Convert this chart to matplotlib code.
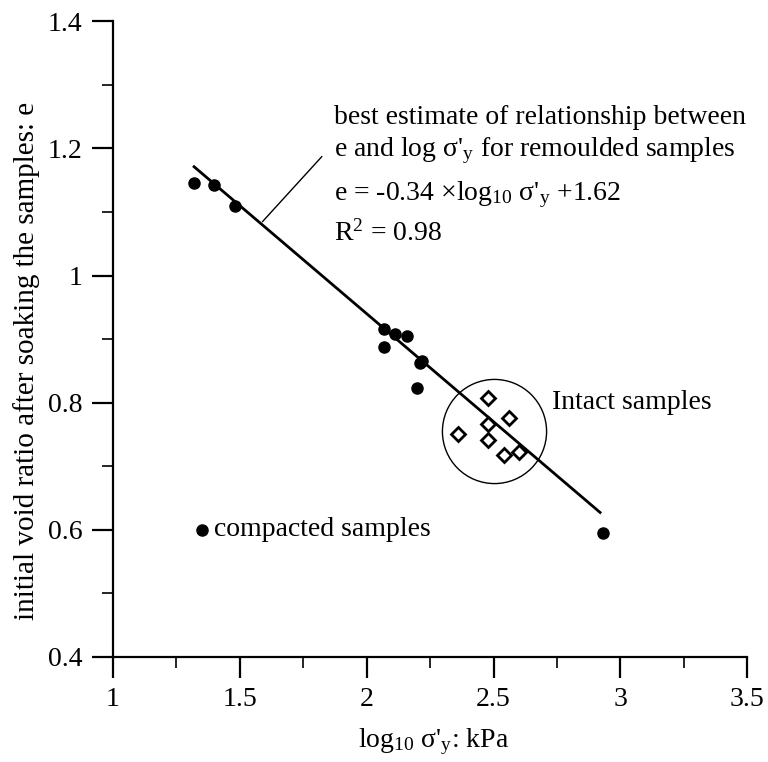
import numpy as np
import matplotlib
matplotlib.use("Agg")
import matplotlib.pyplot as plt
from matplotlib.ticker import MultipleLocator

plt.rcParams['font.family'] = ['Liberation Serif', 'DejaVu Serif']
plt.rcParams['mathtext.fontset'] = 'custom'
plt.rcParams['mathtext.rm'] = 'Liberation Serif'
plt.rcParams['mathtext.it'] = 'Liberation Serif:italic'
plt.rcParams['mathtext.bf'] = 'Liberation Serif:bold'

# remoulded samples (filled circles)
remoulded_x = [1.32, 1.40, 1.48, 2.07, 2.11, 2.16, 2.07, 2.22, 2.21, 2.20, 2.93]
remoulded_e = [1.146, 1.142, 1.110, 0.916, 0.908, 0.905, 0.887, 0.866, 0.862, 0.823, 0.595]

# intact samples (open diamonds)
intact_x = [2.48, 2.56, 2.48, 2.36, 2.48, 2.54, 2.60]
intact_e = [0.808, 0.776, 0.766, 0.751, 0.742, 0.718, 0.723]

# legend point for compacted samples
legend_x = [1.35]
legend_e = [0.60]

# best fit given on the chart
slope = -0.34
intercept = 1.62

fig = plt.figure(figsize=(7.68, 7.62), dpi=100)
ax = fig.add_axes([0.147, 0.138, 0.826, 0.834])

# regression line
xl = np.array([min(remoulded_x), max(remoulded_x) - 0.01])
ax.plot(xl, slope * xl + intercept, color='black', lw=2, zorder=2)

ax.plot(remoulded_x, remoulded_e, 'o', color='black', ms=8, zorder=3)
ax.plot(intact_x, intact_e, 'D', mfc='white', mec='black', mew=2, ms=7, zorder=3)
ax.plot(legend_x, legend_e, 'o', color='black', ms=8)

# circle round the intact samples
cx, cy = np.mean(intact_x), np.mean(intact_e)
ax.plot([cx], [cy], 'o', mfc='none', mec='black', mew=1, ms=75, zorder=1)

fs = 20
ax.text(1.40, 0.60, 'compacted samples', fontsize=fs, va='center', ha='left')
ax.text(2.73, 0.80, 'Intact samples', fontsize=fs, va='center', ha='left')

tx = 1.87
ax.text(tx, 1.249, 'best estimate of relationship between', fontsize=fs, va='center')
ax.text(tx, 1.197, "e and log σ'$_{\\mathrm{y}}$ for remoulded samples", fontsize=fs, va='center')
ax.text(tx, 1.128, "e = -0.34 ×log$_{10}$ σ'$_{\\mathrm{y}}$ +1.62", fontsize=fs, va='center')
ax.text(tx, 1.067, "R$^{2}$ = 0.98", fontsize=fs, va='center')

# leader from the note to the line
ax.plot([1.823, 1.59], [1.187, 1.085], color='black', lw=1)

ax.set_xlim(1, 3.5)
ax.set_ylim(0.4, 1.4)
ax.xaxis.set_minor_locator(MultipleLocator(0.25))
ax.yaxis.set_minor_locator(MultipleLocator(0.1))
ax.set_xticks([1, 1.5, 2, 2.5, 3, 3.5])
ax.set_xticklabels(['1', '1.5', '2', '2.5', '3', '3.5'])
ax.set_yticks([0.4, 0.6, 0.8, 1.0, 1.2, 1.4])
ax.set_yticklabels(['0.4', '0.6', '0.8', '1', '1.2', '1.4'])

for s in ['left', 'bottom']:
    ax.spines[s].set_linewidth(1.6)
ax.spines['top'].set_visible(False)
ax.spines['right'].set_visible(False)
ax.tick_params(which='major', direction='out', length=15, width=1.6, labelsize=fs, pad=7)
ax.tick_params(which='minor', direction='out', length=8, width=1.2)

ax.set_xlabel("log$_{10}$ σ'$_{\\mathrm{y}}$: kPa", fontsize=fs)
ax.set_ylabel("initial void ratio after soaking the samples: e", fontsize=fs + 1)
ax.xaxis.set_label_coords(0.505, -0.11)
ax.yaxis.set_label_coords(-0.115, 0.465)

fig.savefig('out.png', dpi=100)
